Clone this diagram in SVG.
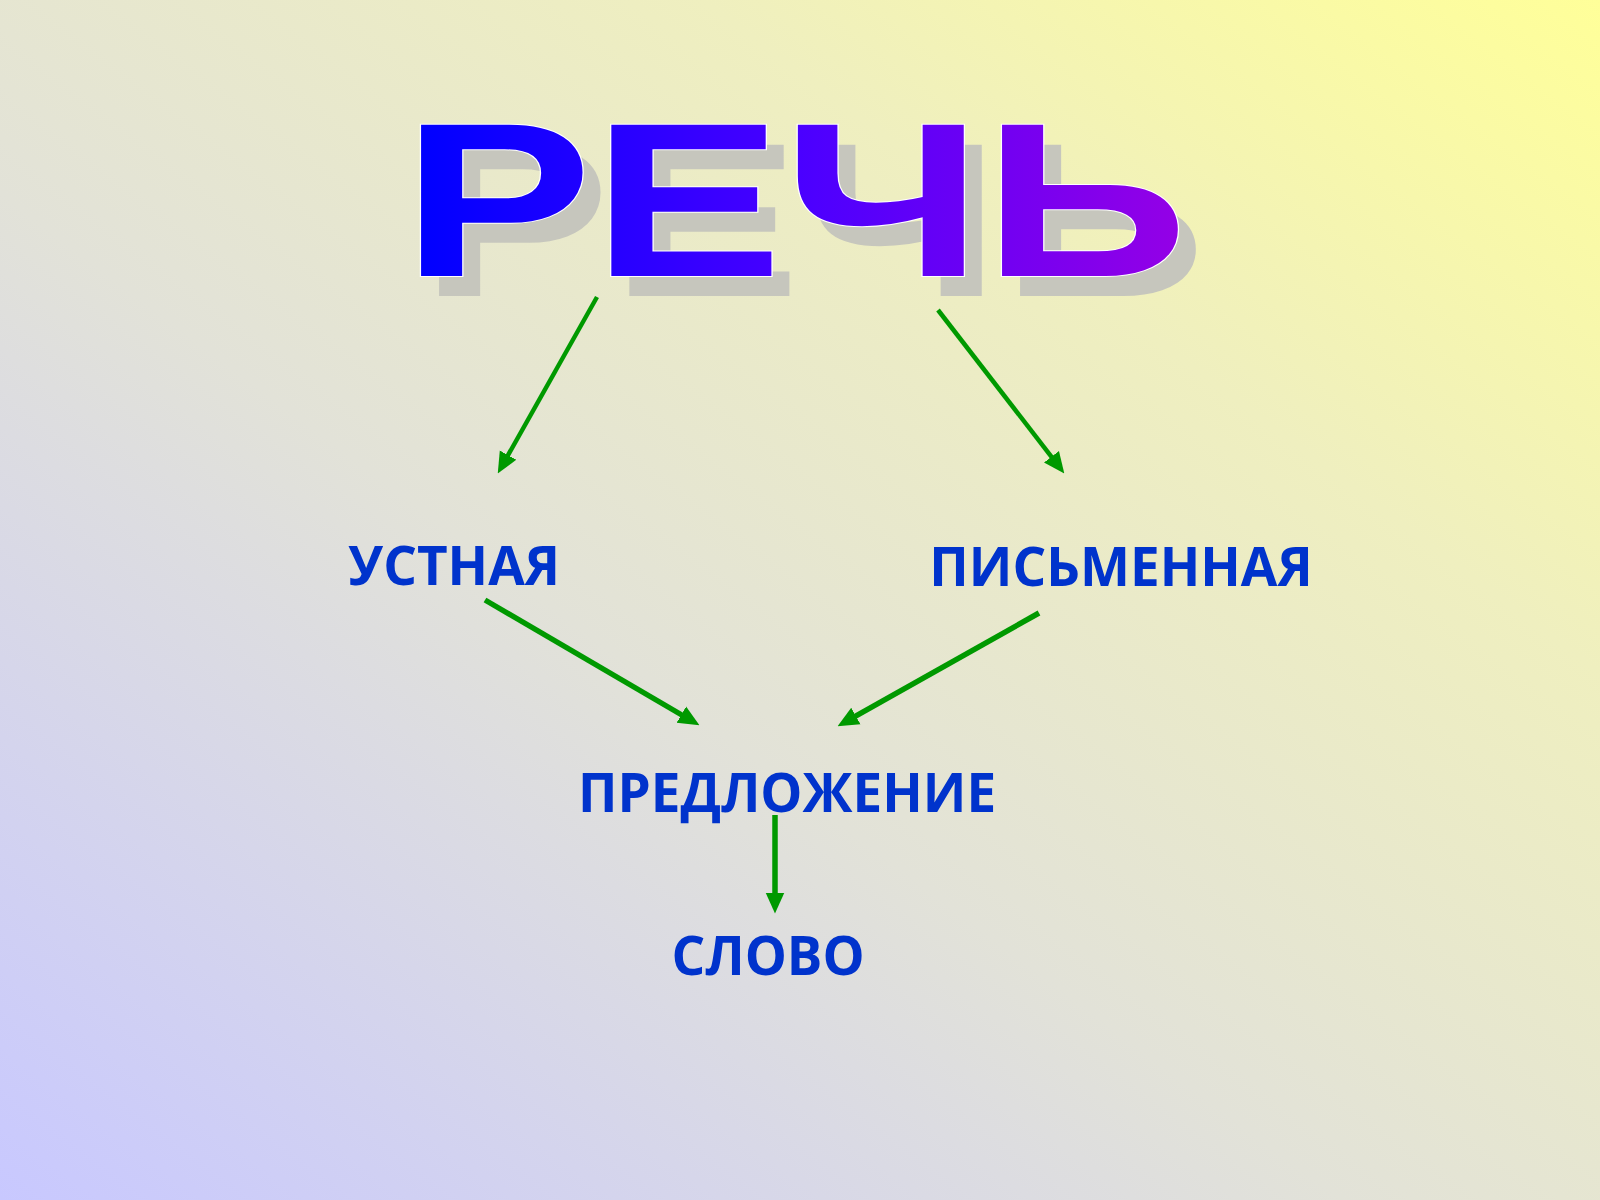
<svg xmlns="http://www.w3.org/2000/svg" width="1600" height="1200" viewBox="0 0 1600 1200">
  <defs>
    <linearGradient id="bg" x1="0" y1="1" x2="1" y2="0">
      <stop offset="0" stop-color="#c8c8ff"/>
      <stop offset="0.42" stop-color="#e2e2d8"/>
      <stop offset="0.72" stop-color="#efefbf"/>
      <stop offset="1" stop-color="#ffff99"/>
    </linearGradient>
    <linearGradient id="titleGrad" gradientUnits="userSpaceOnUse" x1="420" y1="0" x2="1178" y2="0">
      <stop offset="0" stop-color="#0000ff"/>
      <stop offset="0.5" stop-color="#4a00ff"/>
      <stop offset="1" stop-color="#9400e6"/>
    </linearGradient>
    <marker id="arrow" viewBox="0 0 20 20" refX="10" refY="10" markerWidth="21" markerHeight="21" markerUnits="userSpaceOnUse" orient="auto">
      <path d="M0,1 L20,10 L0,19 z" fill="#009900"/>
    </marker>
    <style>
      .title { font-family: "Liberation Sans", Arial, sans-serif; font-weight: bold; font-size: 220px; }
      .label { font-family: "Open Sans", "Noto Sans", "DejaVu Sans", sans-serif; font-weight: bold; font-size: 53px; fill: #0033cc; text-anchor: middle; }
      .conn { stroke: #009900; fill: none; marker-end: url(#arrow); }
    </style>
  </defs>

  <rect x="0" y="0" width="1600" height="1200" fill="url(#bg)"/>

  <g id="node-rech">
    <text class="title" x="420" y="296" textLength="786" lengthAdjust="spacingAndGlyphs" fill="#c6c6bd">РЕЧЬ</text>
    <text class="title" x="402" y="276" textLength="786" lengthAdjust="spacingAndGlyphs" fill="url(#titleGrad)" stroke="#ffffff" stroke-width="2" paint-order="stroke">РЕЧЬ</text>
  </g>

  <g id="node-ustnaya">
    <text class="label" x="454" y="585">УСТНАЯ</text>
  </g>

  <g id="node-pismennaya">
    <text class="label" x="1121" y="586">ПИСЬМЕННАЯ</text>
  </g>

  <g id="node-predlozhenie">
    <text class="label" x="787" y="812">ПРЕДЛОЖЕНИЕ</text>
  </g>

  <g id="node-slovo">
    <text class="label" x="768" y="975">СЛОВО</text>
  </g>

  <g id="connectors">
    <line class="conn" x1="597" y1="297" x2="502.9" y2="464.3" stroke-width="4.5"/>
    <line class="conn" x1="938" y1="310" x2="1057.9" y2="465.1" stroke-width="4.5"/>
    <line class="conn" x1="485" y1="600" x2="690.4" y2="720" stroke-width="5.5"/>
    <line class="conn" x1="1039" y1="613" x2="846.7" y2="721.1" stroke-width="5.5"/>
    <line class="conn" x1="775" y1="815" x2="775" y2="903" stroke-width="5.5"/>
  </g>
</svg>
